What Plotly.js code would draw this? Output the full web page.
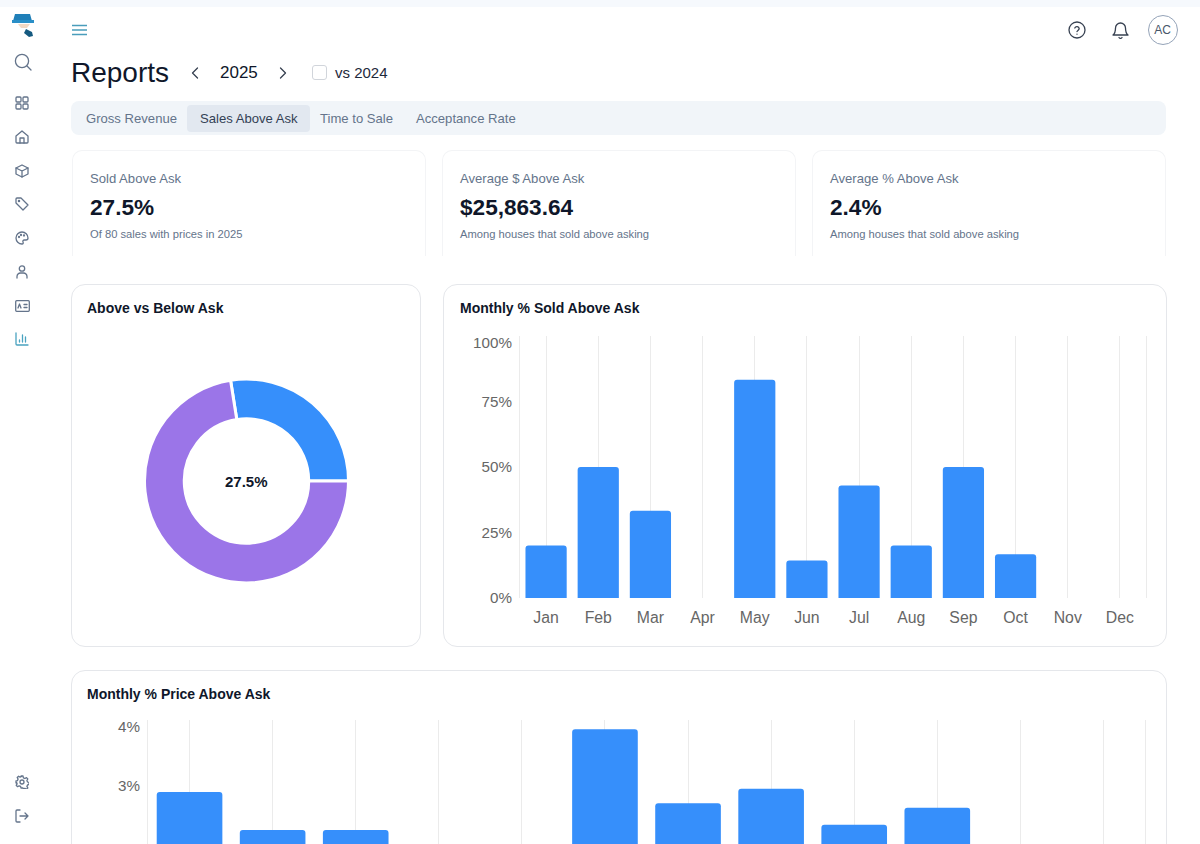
<!DOCTYPE html>
<html lang="en">
<head>
<meta charset="utf-8">
<title>Reports</title>
<script src="https://cdn.plot.ly/plotly-3.0.1.min.js"></script>
<style>
html,body{margin:0;padding:0;width:1200px;height:844px;overflow:hidden;background:#fff;font-family:"Liberation Sans",Arial,sans-serif;color:#0f172a}
.a{position:absolute;white-space:nowrap}
.t{position:absolute;white-space:nowrap;line-height:20px;height:20px}
#strip{position:absolute;left:0;top:0;width:1200px;height:7px;background:#f6f9fd}
.tabs{left:71px;top:101px;width:1095px;height:34px;background:#f1f5f9;border-radius:8px}
.active{left:187px;top:105px;width:123px;height:27px;background:#e2e8f0;border-radius:4px}
.kpi{top:150px;width:354.5px;height:106px;border:1px solid #f3f4f6;border-bottom:none;border-radius:10px 10px 0 0;box-sizing:border-box}
.card{border:1px solid #e5e7eb;border-radius:14px;box-sizing:border-box;background:#fff}
.tab{font-size:13.1px;color:#64748b}
.kl{font-size:13.1px;color:#64748b}
.kv{font-size:22.6px;font-weight:700;color:#0f172a}
.ks{font-size:11.2px;color:#64748b}
.plot{position:absolute}
svg.i{position:absolute;fill:none;stroke:#64748b;stroke-width:1.3;stroke-linecap:round;stroke-linejoin:round}
</style>
</head>
<body>
<div id="strip"></div>

<!-- logo -->
<svg class="a" style="left:10px;top:12px" width="28" height="26" viewBox="0 0 28 26">
  <path d="M5 2h15l2 7H3z" fill="#1f7fb8"/><rect x="2" y="8" width="22" height="3" fill="#2a8fc7"/>
  <path d="M8 12h12l-3 4h-6z" fill="#f3d9c4"/><path d="M16 17l6 3 1 4-4 1-5-4z" fill="#155a80"/>
</svg>
<!-- hamburger -->
<svg class="a" style="left:72px;top:24px" width="16" height="12" viewBox="0 0 16 12" fill="none" stroke="#4a9dbb" stroke-width="1.6"><path d="M0 1.5h15M0 6h15M0 10.5h15"/></svg>

<!-- sidebar -->
<svg class="i" style="left:14px;top:53px" width="18" height="18" viewBox="0 0 18 18"><circle cx="8" cy="8" r="6.6"/><path d="M13 13l4 4"/></svg>
<svg class="i" style="left:15px;top:96px" width="14" height="14" viewBox="0 0 14 14" stroke-width="1.1"><rect x="1" y="1" width="5" height="5" rx="1"/><rect x="8" y="1" width="5" height="5" rx="1"/><rect x="1" y="8" width="5" height="5" rx="1"/><rect x="8" y="8" width="5" height="5" rx="1"/></svg>
<svg class="i" style="left:15px;top:130px" width="14" height="14" viewBox="0 0 14 14" stroke-width="1.1"><path d="M1 6l6-5 6 5v6a1 1 0 0 1-1 1H2a1 1 0 0 1-1-1z"/><path d="M5 13V8h4v5"/></svg>
<svg class="i" style="left:15px;top:164px" width="14" height="14" viewBox="0 0 14 14" stroke-width="1.1"><path d="M7 1l6 3v6l-6 3-6-3V4z"/><path d="M1 4l6 3 6-3M7 7v6"/></svg>
<svg class="i" style="left:15px;top:197px" width="14" height="14" viewBox="0 0 14 14" stroke-width="1.1"><path d="M1 2a1 1 0 0 1 1-1h4l7 7-5 5-7-7z"/><circle cx="4" cy="4" r=".6"/></svg>
<svg class="i" style="left:15px;top:231px" width="14" height="14" viewBox="0 0 14 14" stroke-width="1.1"><path d="M7 1a6 6 0 1 0 0 12c1.2 0 1.5-1 1-2-.5-1 .2-2 1.3-2H11a2 2 0 0 0 2-2c0-3.300-2.700-6-6-6z"/><circle cx="4" cy="6" r=".5"/><circle cx="6" cy="4" r=".5"/><circle cx="9" cy="4.500" r=".5"/></svg>
<svg class="i" style="left:16px;top:265px" width="12" height="14" viewBox="0 0 12 14" stroke-width="1.1"><circle cx="6" cy="3.500" r="2.700"/><path d="M1 13v-1.500A3.500 3.500 0 0 1 4.500 8h3a3.500 3.500 0 0 1 3.500 3.500V13"/></svg>
<svg class="i" style="left:15px;top:300px" width="15" height="12" viewBox="0 0 15 12" stroke-width="1.1"><rect x=".7" y=".7" width="13.600" height="10.600" rx="1"/><path d="M3 8l1.500-4L6 8M9 4.500h3M9 7.500h3"/></svg>
<svg class="i" style="left:15px;top:332px;stroke:#4aa3c0" width="14" height="14" viewBox="0 0 14 14" stroke-width="1.2"><path d="M1 1v11a1 1 0 0 0 1 1h11M4.500 10V8M7.500 10V3M10.500 10V5"/></svg>
<svg class="i" style="left:15px;top:775px" width="14" height="14" viewBox="0 0 14 14" stroke-width="1.1"><circle cx="7" cy="7" r="2"/><path d="M6 1h2l.4 1.800 1.500.7 1.600-.9 1.300 1.400-.9 1.500.6 1.500 1.500.5v2l-1.500.4-.6 1.500.9 1.500-1.400 1.300-1.500-.9-1.500.6L8 13H6l-.4-1.600-1.500-.6-1.500.9-1.400-1.400.9-1.500-.6-1.500L1 8V6l1.500-.4.600-1.500-.9-1.600 1.400-1.300 1.500.9 1.500-.7z"/></svg>
<svg class="i" style="left:15px;top:809px" width="14" height="14" viewBox="0 0 14 14" stroke-width="1.1"><path d="M5 1H2a1 1 0 0 0-1 1v10a1 1 0 0 0 1 1h3M5 7h8M10 4l3 3-3 3"/></svg>

<!-- header right -->
<svg class="i" style="left:1068px;top:21px;stroke:#374151" width="18" height="18" viewBox="0 0 18 18"><circle cx="9" cy="9" r="8"/><path d="M6.800 7a2.300 2.300 0 0 1 4.400.6c0 1.500-2.200 2-2.200 3"/><path d="M9 13.200h.01"/></svg>
<svg class="i" style="left:1112px;top:21px;stroke:#374151" width="17" height="18" viewBox="0 0 17 18"><path d="M3.500 7a5 5 0 0 1 10 0c0 5 2.500 7 2.500 7H1s2.500-2 2.500-7z"/><path d="M7 16.500a1.700 1.700 0 0 0 3 0"/></svg>
<div class="a" style="left:1147.500px;top:15px;width:30px;height:30px;border:1px solid #94a3b8;border-radius:50%;box-sizing:border-box;text-align:center;line-height:28px;font-size:12px;color:#475569">AC</div>

<!-- heading -->
<div class="t" style="left:71px;top:63px;font-size:28px;color:#0f172a;line-height:20px">Reports</div>
<svg class="i" style="left:191px;top:67px;stroke:#374151" width="8" height="12" viewBox="0 0 8 12" stroke-width="1.1"><path d="M6.500 1L1.500 6l5 5"/></svg>
<div class="t" style="left:220px;top:63px;font-size:17px;color:#0f172a">2025</div>
<svg class="i" style="left:279px;top:67px;stroke:#374151" width="8" height="12" viewBox="0 0 8 12" stroke-width="1.1"><path d="M1.500 1l5 5-5 5"/></svg>
<div class="a" style="left:312px;top:65px;width:15px;height:15px;border:1px solid #d1d5db;border-radius:3px;box-sizing:border-box"></div>
<div class="t" style="left:335px;top:63px;font-size:15px;color:#1e293b">vs 2024</div>

<!-- tabs -->
<div class="a tabs"></div><div class="a active"></div>
<div class="t tab" style="left:86px;top:108.500px">Gross Revenue</div>
<div class="t tab" style="left:200px;top:108.500px;color:#334155">Sales Above Ask</div>
<div class="t tab" style="left:320px;top:108.500px">Time to Sale</div>
<div class="t tab" style="left:416px;top:108.500px">Acceptance Rate</div>

<!-- KPI cards -->
<div class="a kpi" style="left:71.500px"></div>
<div class="a kpi" style="left:441.500px"></div>
<div class="a kpi" style="left:811.500px"></div>
<div class="t kl" style="left:90px;top:168.500px">Sold Above Ask</div>
<div class="t kv" style="left:90px;top:197.500px">27.5%</div>
<div class="t ks" style="left:90px;top:224px">Of 80 sales with prices in 2025</div>
<div class="t kl" style="left:460px;top:168.500px">Average $ Above Ask</div>
<div class="t kv" style="left:460px;top:197.500px">$25,863.64</div>
<div class="t ks" style="left:460px;top:224px">Among houses that sold above asking</div>
<div class="t kl" style="left:830px;top:168.500px">Average % Above Ask</div>
<div class="t kv" style="left:830px;top:197.500px">2.4%</div>
<div class="t ks" style="left:830px;top:224px">Among houses that sold above asking</div>

<!-- chart cards -->
<div class="a card" style="left:71px;top:284px;width:350px;height:363px"></div>
<div class="a card" style="left:443px;top:284px;width:724px;height:363px"></div>
<div class="a card" style="left:71px;top:670px;width:1096px;height:360px"></div>
<div id="donut" class="plot" style="left:72px;top:285px;width:348px;height:361px"></div>
<div id="soldBars" class="plot" style="left:444px;top:285px;width:722px;height:361px"></div>
<div id="priceBars" class="plot" style="left:71px;top:671px;width:1095px;height:358px"></div>

<script>
const months = ['Jan','Feb','Mar','Apr','May','Jun','Jul','Aug','Sep','Oct','Nov','Dec'];
const soldPct = [20,50,33.3,0,83.3,14.3,42.9,20,50,16.7,0,0];
const pricePct = [2.9,2.32,2.32,0,0,3.86,2.73,2.95,2.4,2.66,0,0];
const donutLabels = ['Above ask','Below ask'];
const donutValues = [22,58];
const soldTicks = [0,25,50,75,100];
const soldTickText = ['0%','25%','50%','75%','100%'];
const priceTicks = [3,4];
const priceTickText = ['3%','4%'];

const FONT = '"Liberation Sans", Arial, sans-serif';
const BLUE = '#368ffb', PURPLE = '#9b75e8', GRID = '#ebebeb', TICK = '#666666';
const cfg = {displayModeBar:false, responsive:false, staticPlot:true};

function barLayout(text, w, h, m, titleLeft, ticks, labels, maxY, showX) {
  return {
    width:w, height:h, margin:m, paper_bgcolor:'rgba(0,0,0,0)', plot_bgcolor:'rgba(0,0,0,0)',
    showlegend:false, bargap:0.21, barcornerradius:3,
    font:{family:FONT,size:15,color:TICK},
    title:{text:'<b>'+text+'</b>', font:{family:FONT,size:14,color:'#0f172a'},
           xref:'container', x:titleLeft/w, xanchor:'left', yref:'container', y:1-23/h, yanchor:'middle'},
    xaxis:{type:'category', categoryorder:'array', categoryarray:months, range:[-0.5,11.5], fixedrange:true,
           showgrid:true, gridcolor:GRID, gridwidth:1, zeroline:false, showline:false,
           showticklabels:showX,
           ticks:'outside', ticklen:5, tickcolor:'rgba(0,0,0,0)', tickfont:{family:FONT,size:15.800,color:TICK}},
    yaxis:{range:[0,maxY], tickmode:'array', tickvals:ticks, ticktext:labels, fixedrange:true,
           showgrid:false, zeroline:false, showline:true, mirror:true, linecolor:GRID, linewidth:1,
           ticks:'outside', ticklen:4, tickcolor:'rgba(0,0,0,0)', tickfont:{family:FONT,size:15.200,color:TICK}}
  };
}
function nudgeTop(id, dy) {
  const all = document.getElementById(id).querySelectorAll('g.ytick');
  const last = all[all.length-1];
  if (last) last.setAttribute('transform','translate(0,'+dy+')');
}

const w1=348,h1=361;
const donutTrace = {type:'pie', labels:donutLabels, values:donutValues, hole:0.61, sort:false,
  direction:'clockwise', rotation:-9, textinfo:'none', hoverinfo:'label+percent',
  marker:{colors:[BLUE,PURPLE], line:{color:'#ffffff',width:3}},
  domain:{x:[(246.5-72-102)/w1,(246.5-72+102)/w1], y:[1-(196+102)/h1,1-(196-102)/h1]}};
Plotly.newPlot('donut',[donutTrace],{
  width:w1,height:h1,margin:{l:0,r:0,t:0,b:0},paper_bgcolor:'rgba(0,0,0,0)',showlegend:false,
  title:{text:'<b>Above vs Below Ask</b>',font:{family:FONT,size:14,color:'#0f172a'},xref:'container',x:15/w1,xanchor:'left',yref:'container',y:1-23/h1,yanchor:'middle'},
  annotations:[{text:'<b>27.5%</b>',x:(246.5-72)/w1,y:1-196/h1,xref:'paper',yref:'paper',showarrow:false,font:{family:FONT,size:15,color:'#0f172a'}}]
},cfg);

const soldTrace = {type:'bar', x:months, y:soldPct, marker:{color:BLUE}, hoverinfo:'x+y'};
Plotly.newPlot('soldBars',[soldTrace],barLayout('Monthly % Sold Above Ask',722,361,{l:76,r:20,t:51,b:48,pad:0},16,soldTicks,soldTickText,100,true),cfg)
  .then(()=>nudgeTop('soldBars',7));

const priceTrace = {type:'bar', x:months, y:pricePct, marker:{color:BLUE}, hoverinfo:'x+y'};
Plotly.newPlot('priceBars',[priceTrace],barLayout('Monthly % Price Above Ask',1095,358,{l:77,r:21,t:49,b:47,pad:0},16,priceTicks,priceTickText,4,false),cfg)
  .then(()=>nudgeTop('priceBars',7));
</script>
</body>
</html>
